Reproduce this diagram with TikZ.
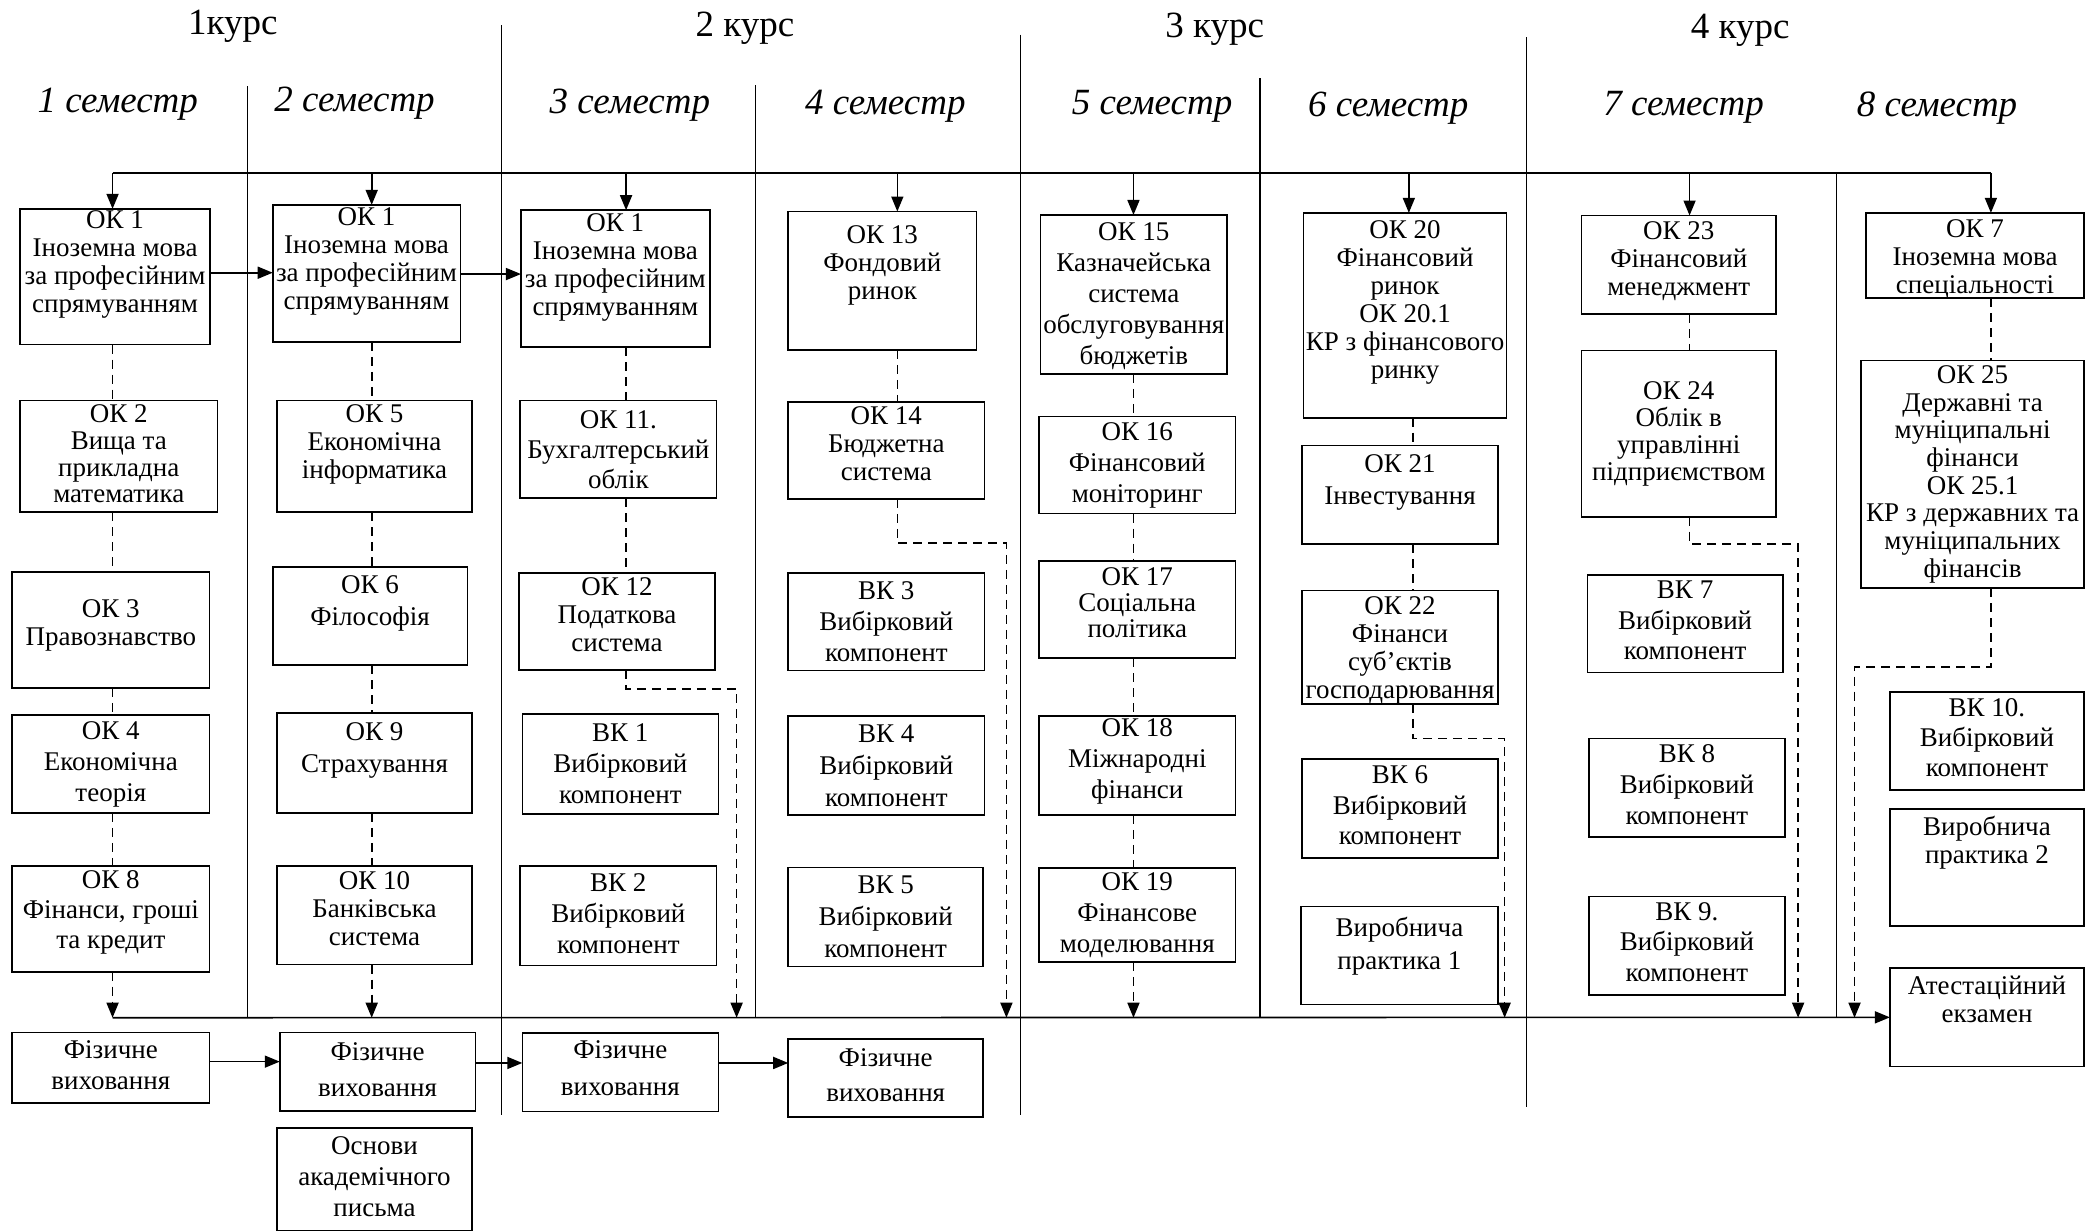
\documentclass[tikz,border=0pt]{standalone}
\usepackage{fontspec}
\setmainfont{Liberation Serif}
\usetikzlibrary{arrows.meta}
\tikzset{
 x=1.3304pt, y=-1.3304pt,
 boxframe/.style={draw, line width=1.6pt, inner sep=0pt, outer sep=0pt},
 boxtext/.style={inner sep=0pt, align=center, font=\fontsize{27}{28}\selectfont},
 sepline/.style={line width=1.3pt},
 conn/.style={line width=1.6pt},
 arr/.style={conn, -{Triangle[length=15pt,width=12pt]}},
 dsh/.style={conn, dash pattern=on 9pt off 6pt},
 hdr/.style={font=\fontsize{37}{40}\selectfont, inner sep=0pt},
 semlbl/.style={font=\fontsize{37}{40}\selectfont\itshape, inner sep=0pt},
}
\newcommand\fs[1]{\fontsize{27}{#1}\selectfont}
% #1 anchor (north/center), #2 text options, #3 name, #4 x1, #5 y1, #6 x2, #7 y2, #8 text
\NewDocumentCommand\bx{O{center} O{} m m m m m m}{%
 \pgfmathsetlengthmacro\bw{(#6-#4)*1.3304}%
 \pgfmathsetlengthmacro\bh{(#7-#5)*1.3304}%
 \node[boxframe, minimum width=\bw, minimum height=\bh] (#3) at ({(#4+#6)/2},{(#5+#7)/2}) {};
 \node[boxtext, anchor=#1, #2] (#3-t) at (#3.#1) {#8};
}
\begin{document}
\begin{tikzpicture}
\useasboundingbox[fill=white] (0,0) rectangle (1568,925);

% headers
\node[hdr] (k1) at (175,20) {1курс};
\node[hdr] (k2) at (560,21) {2 курс};
\node[hdr] (k3) at (913,22) {3 курс};
\node[hdr] (k4) at (1308,23) {4 курс};
\node[semlbl] (s1) at (88.5,78) {1 семестр};
\node[semlbl] (s2) at (266.5,77.5) {2 семестр};
\node[semlbl] (s3) at (473.5,79) {3 семестр};
\node[semlbl] (s4) at (665.5,80) {4 семестр};
\node[semlbl] (s5) at (866,80) {5 семестр};
\node[semlbl] (s6) at (1043.5,81) {6 семестр};
\node[semlbl] (s7) at (1265.5,81) {7 семестр};
\node[semlbl] (s8) at (1456,81) {8 семестр};

% separator lines
\draw[sepline] (186,65) -- (186,765);
\draw[sepline] (377,19) -- (377,838);
\draw[sepline] (568,64) -- (568,765);
\draw[sepline] (767,26) -- (767,838);
\draw[sepline] (947,59) -- (947,765);
\draw[sepline] (1147.5,28) -- (1147.5,832);
\draw[sepline] (1380.5,130) -- (1380.5,765);

% semester 1
\bx[north][yshift=-2pt]{ok1a}{15}{157}{158}{259}{ОК 1\\Іноземна мова\\за професійним\\спрямуванням}
\bx[north][font=\fs{26.6}, yshift=-4.4pt]{ok2}{15}{301}{163.6}{385}{ОК 2\\Вища та\\прикладна\\математика}
\bx[center][yshift=4pt]{ok3}{9}{430}{157.6}{517}{ОК 3\\Правознавство}
\bx[center][font=\fs{31}]{ok4}{9}{537.5}{157.6}{611}{ОК 4\\Економічна\\теорія}
\bx[center][font=\fs{30}, yshift=6pt]{ok8}{9}{651}{157.6}{730.4}{ОК 8\\Фінанси, гроші\\та кредит}
\bx[north][font=\fs{31}, yshift=-8.4pt]{fv1}{9}{776}{157.6}{829.3}{Фізичне\\виховання}

% semester 2
\bx[north][yshift=-3pt]{ok1b}{205}{154}{346}{257}{ОК 1\\Іноземна мова\\за професійним\\спрямуванням}
\bx[north][yshift=-4.4pt]{ok5}{208}{301}{355}{385}{ОК 5\\Економічна\\інформатика}
\bx[north][font=\fs{32}, yshift=-8.4pt]{ok6}{205}{426}{351.3}{500}{ОК 6\\Філософія}
\bx[north][font=\fs{32}, yshift=-9.7pt]{ok9}{208}{536}{355}{611}{ОК 9\\Страхування}
\bx[north][yshift=-5.7pt]{ok10}{208}{651}{355}{725}{ОК 10\\Банківська\\система}
\bx[north][font=\fs{36}, yshift=-9.7pt]{fv2}{210.3}{776}{357.4}{835}{Фізичне\\виховання}
\bx[north][font=\fs{31}, yshift=-8.4pt]{osn}{208}{848}{355}{925.5}{Основи\\академічного\\письма}

% semester 3
\bx[north][yshift=-3pt]{ok1c}{391.6}{158}{533.5}{261}{ОК 1\\Іноземна мова\\за професійним\\спрямуванням}
\bx[center][font=\fs{30}]{ok11}{391}{301}{538.6}{374.5}{ОК 11.\\Бухгалтерський\\облік}
\bx[north][yshift=-5pt]{ok12}{390}{430.5}{537.6}{503.6}{ОК 12\\Податкова\\система}
\bx[center][font=\fs{31}]{vk1}{392.6}{536.7}{540}{612}{ВК 1\\Вибірковий\\компонент}
\bx[center][font=\fs{31}, yshift=2pt]{vk2}{391}{651}{538.6}{725.7}{ВК 2\\Вибірковий\\компонент}
\bx[north][font=\fs{37}, yshift=-7.7pt]{fv3}{392.6}{776.5}{540}{835.6}{Фізичне\\виховання}

% semester 4
\bx[north][yshift=-13.7pt]{ok13}{592.5}{159}{734}{263}{ОК 13\\Фондовий\\ринок}
\bx[north][yshift=-4.4pt]{ok14}{592.5}{302}{740}{375}{ОК 14\\Бюджетна\\система}
\bx[center][font=\fs{31}]{vk3}{592.5}{430.5}{740}{504}{ВК 3\\Вибірковий\\компонент}
\bx[center][font=\fs{32}]{vk4}{592.5}{538}{740}{612.6}{ВК 4\\Вибірковий\\компонент}
\bx[center][font=\fs{32}]{vk5}{592.5}{652}{739}{726.6}{ВК 5\\Вибірковий\\компонент}
\bx[north][font=\fs{34.6}, yshift=-9.7pt]{fv4}{592.5}{781}{739}{839.4}{Фізичне\\виховання}

% semester 5
\bx[north][font=\fs{31}, yshift=-7.5pt]{ok15}{782}{161.6}{922.5}{281}{ОК 15\\Казначейська\\система\\обслуговування\\бюджетів}
\bx[center][font=\fs{31}]{ok16}{781}{313}{928.7}{386}{ОК 16\\Фінансовий\\моніторинг}
\bx[north][font=\fs{26}, yshift=-6pt]{ok17}{781}{421.7}{928.7}{494.7}{ОК 17\\Соціальна\\політика}
\bx[center][font=\fs{30.6}, yshift=4pt]{ok18}{781}{538}{928.7}{612.6}{ОК 18\\Міжнародні\\фінанси}
\bx[center][font=\fs{31}]{ok19}{781}{652.5}{928.7}{723}{ОК 19\\Фінансове\\моделювання}

% semester 6
\bx[north][yshift=-7pt]{ok20}{979.8}{160}{1132.5}{314}{ОК 20\\Фінансовий\\ринок\\ОК 20.1\\КР з фінансового\\ринку}
\bx[north][font=\fs{32}, yshift=-8.4pt]{ok21}{978.7}{335}{1126}{409}{ОК 21\\Інвестування}
\bx[north][yshift=-5.7pt]{ok22}{978.7}{444}{1126}{529}{ОК 22\\Фінанси\\суб’єктів\\господарювання}
\bx[center][font=\fs{30.6}, yshift=3pt]{vk6}{978.7}{570.5}{1126}{645}{ВК 6\\Вибірковий\\компонент}
\bx[north][font=\fs{33}, yshift=-10pt]{vp1}{977.8}{681.5}{1126}{755}{Виробнича\\практика 1}

% semester 7
\bx[north][yshift=-5.7pt]{ok23}{1188.8}{162}{1335}{236}{ОК 23\\Фінансовий\\менеджмент}
\bx[center][font=\fs{27}]{ok24}{1188.8}{263.6}{1335}{388.4}{ОК 24\\Облік в\\управлінні\\підприємством}
\bx[center][font=\fs{30.6}, yshift=3pt]{vk7}{1193.3}{432}{1340}{505.6}{ВК 7\\Вибірковий\\компонент}
\bx[center][font=\fs{31}, yshift=3pt]{vk8}{1194.4}{555}{1341.6}{629}{ВК 8\\Вибірковий\\компонент}
\bx[center][font=\fs{30.6}, yshift=4pt]{vk9}{1194.4}{674}{1341.6}{748}{ВК 9.\\Вибірковий\\компонент}

% semester 8
\bx[north][yshift=-7pt]{ok7}{1402.7}{160}{1566.5}{224}{ОК 7\\Іноземна мова\\спеціальності}
\bx[center][font=\fs{27.7}]{ok25}{1399}{271}{1566.5}{442}{ОК 25\\Державні та\\муніципальні\\фінанси\\ОК 25.1\\КР з державних та\\муніципальних\\фінансів}
\bx[center][font=\fs{30}, yshift=3pt]{vk10}{1420.6}{520}{1566.5}{594}{ВК 10.\\Вибірковий\\компонент}
\bx[north][yshift=-7pt]{vp2}{1420.6}{608}{1566.5}{696}{Виробнича\\практика 2}
\bx[north][yshift=-7.5pt]{att}{1420.6}{727.6}{1566.5}{801.8}{Атестаційний\\екзамен}

% column / line coordinates
\coordinate (c1) at (84.6,0);
\coordinate (c2) at (279.4,0);
\coordinate (c3) at (470.6,0);
\coordinate (c4) at (674.5,0);
\coordinate (c5) at (852,0);
\coordinate (c6) at (1062,0);
\coordinate (c7) at (1270,0);
\coordinate (c8) at (1496.5,0);
\coordinate (tl) at (0,130);
\coordinate (bl) at (0,765);

% top distribution line and arrows
\draw[conn, line width=1.8pt] (c1 |- tl) -- (c8 |- tl);
\draw[arr] (c1 |- tl) -- (ok1a.north -| c1);
\draw[arr] (c2 |- tl) -- (ok1b.north -| c2);
\draw[arr] (c3 |- tl) -- (ok1c.north -| c3);
\draw[arr] (c4 |- tl) -- (ok13.north -| c4);
\draw[arr] (c5 |- tl) -- (ok15.north -| c5);
\draw[arr] (1059,130) -- (ok20.north -| 1059,0);
\draw[arr] (c7 |- tl) -- (ok23.north -| c7);
\draw[arr] (c8 |- tl) -- (ok7.north -| c8);

% horizontal arrows OK 1 and physical education
\draw[arr] (ok1a.east |- 0,205) -- (ok1b.west |- 0,205);
\draw[arr] (ok1b.east |- 0,206) -- (ok1c.west |- 0,206);
\draw[arr] (fv1.east |- 0,798) -- (fv2.west |- 0,798);
\draw[arr] (fv2.east |- 0,799) -- (fv3.west |- 0,799);
\draw[arr] (fv3.east |- 0,799) -- (fv4.west |- 0,799);

% dashed chains
\draw[dsh] (ok1a.south -| c1) -- (ok2.north -| c1);
\draw[dsh] (ok2.south -| c1) -- (ok3.north -| c1);
\draw[dsh] (ok3.south -| c1) -- (ok4.north -| c1);
\draw[dsh] (ok4.south -| c1) -- (ok8.north -| c1);
\draw[dsh, arr] (ok8.south -| c1) -- (c1 |- bl);

\draw[dsh] (ok1b.south -| c2) -- (ok5.north -| c2);
\draw[dsh] (ok5.south -| c2) -- (ok6.north -| c2);
\draw[dsh] (ok6.south -| c2) -- (ok9.north -| c2);
\draw[dsh] (ok9.south -| c2) -- (ok10.north -| c2);
\draw[dsh, arr] (ok10.south -| c2) -- (c2 |- bl);

\draw[dsh] (ok1c.south -| c3) -- (ok11.north -| c3);
\draw[dsh] (ok11.south -| c3) -- (ok12.north -| c3);
\coordinate (r3) at (553.7,518);
\draw[dsh, arr] (ok12.south -| c3) |- (r3) -- (r3 |- bl);

\draw[dsh] (ok13.south -| c4) -- (ok14.north -| c4);
\coordinate (r4) at (756.5,408);
\draw[dsh, arr] (ok14.south -| c4) |- (r4) -- (r4 |- bl);

\draw[dsh] (ok15.south -| c5) -- (ok16.north -| c5);
\draw[dsh] (ok16.south -| c5) -- (ok17.north -| c5);
\draw[dsh] (ok17.south -| c5) -- (ok18.north -| c5);
\draw[dsh] (ok18.south -| c5) -- (ok19.north -| c5);
\draw[dsh, arr] (ok19.south -| c5) -- (c5 |- bl);

\draw[dsh] (ok20.south -| c6) -- (ok21.north -| c6);
\draw[dsh] (ok21.south -| c6) -- (ok22.north -| c6);
\coordinate (r6) at (1131,555);
\draw[dsh, arr] (ok22.south -| c6) |- (r6) -- (r6 |- bl);

\draw[dsh] (ok23.south -| c7) -- (ok24.north -| c7);
\coordinate (r7) at (1351.6,409);
\draw[dsh, arr] (ok24.south -| c7) |- (r7) -- (r7 |- bl);

\draw[dsh] (ok7.south -| c8) -- (ok25.north -| c8);
\coordinate (r8) at (1394,501.5);
\draw[dsh, arr] (ok25.south -| c8) |- (r8) -- (r8 |- bl);

% bottom collecting line
\draw[arr] (c1 |- bl) -- (att.west);
\end{tikzpicture}
\end{document}
